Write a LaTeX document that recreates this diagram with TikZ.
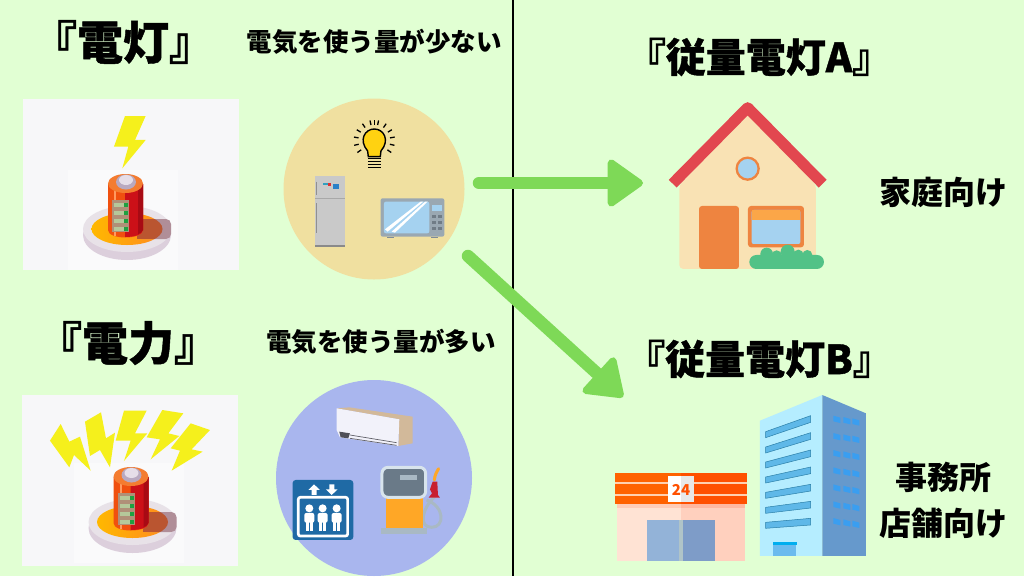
\documentclass[tikz,border=0pt]{standalone}
\usepackage{xcolor}
\usepackage{fontspec}
\usetikzlibrary{positioning,arrows.meta}
\setmainfont{Noto Sans CJK JP}
\definecolor{bgcol}{HTML}{E1FFD3}
\definecolor{flowcol}{HTML}{7ED957}
\definecolor{panelcol}{HTML}{F7F7F9}
\definecolor{boltcol}{HTML}{F5F01C}
\definecolor{lowcol}{HTML}{F0E0A0}
\definecolor{highcol}{HTML}{A9B6EE}
\definecolor{roofcol}{HTML}{E2474F}
\definecolor{wallcol}{HTML}{F9E2B4}
\definecolor{doorcol}{HTML}{EE8440}
\definecolor{glasscol}{HTML}{A5D2F0}
\definecolor{bushcol}{HTML}{52C287}
\definecolor{liftcol}{HTML}{1F6AA5}
\definecolor{steelcol}{HTML}{A9B9C4}
\definecolor{signcol}{HTML}{FF5000}
\definecolor{ringleft}{HTML}{FFB800}
\definecolor{ringright}{HTML}{FF8A1F}
\tikzset{
  hx/.code={\definecolor{hxfill}{HTML}{#1}\tikzset{fill=hxfill}},
  hd/.code={\definecolor{hxdraw}{HTML}{#1}\tikzset{draw=hxdraw}},
  bigtitle/.style={font=\bfseries\addfontfeature{FakeBold=1}\fontsize{46}{50}\selectfont, inner sep=0pt},
  midtitle/.style={font=\bfseries\addfontfeature{FakeBold=1}\fontsize{40}{44}\selectfont, inner sep=0pt},
  usetext/.style={font=\bfseries\fontsize{25.5}{30}\selectfont, inner sep=0pt},
  sidetext/.style={font=\bfseries\fontsize{32}{46}\selectfont, inner sep=0pt, align=center},
  appcircle/.style={circle, inner sep=0pt},
  flowarrow/.style={flowcol, line width=12.5pt, line cap=round,
    -{Triangle[round, length=38pt, width=52pt, line width=7pt]}},
  zoomgrid/.style={x=.3333pt, y=-.3333pt},
  battery/.pic={
    \fill[white!40!panelcol] (-59,-62) rectangle (51,38);
    \fill[hx=DCCFDC] (0,3) ellipse [x radius=44, y radius=25];
    \fill[hx=E8E2E8] (0,-3) ellipse [x radius=44, y radius=23];
    \shade[left color=ringleft, right color=ringright] (0,-3) ellipse [x radius=35.5, y radius=16];
    \fill[hx=B08E98, rounded corners=5pt] (10,-13) -- (44,-13) -- (44,7) -- (10,7) -- cycle;
    \begin{scope}
      \clip (0,-3) ellipse [x radius=35.5, y radius=16];
      \fill[hx=BA5530] (10,-13) rectangle (44,7);
    \end{scope}
    \fill[hx=F0500F] (-19,-48) -- (-19,-2) .. controls (-19,8) and (16,8) .. (16,-2) -- (16,-48) -- cycle;
    \fill[hx=CC1018] (-2,-48) -- (-2,5) .. controls (6,5) and (16,3) .. (16,-2) -- (16,-48) -- cycle;
    \fill[hx=A80A14] (11,-48) -- (11,2) .. controls (13,1) and (16,0) .. (16,-2) -- (16,-48) -- cycle;
    \fill[hx=FF9A60] (-13,-42) rectangle (-11,4);
    \fill[hx=F47C30] (-1.5,-48.5) ellipse [x radius=17.5, y radius=9.5];
    \fill[hx=B9A9C0] (-1,-50) ellipse [x radius=10, y radius=7.5];
    \fill[hx=E6DEE8] (-1,-52) ellipse [x radius=7, y radius=5];
    \fill[hx=B09078] (-15,-32) rectangle (2,0);
    \foreach \r in {-29,-21,-13,-5} {
      \fill[hx=B5C89A] (-13,\r) rectangle (-3,\r+4);
      \fill[hx=1FA040] (-3,\r) rectangle (1,\r+4);
    }
  }
}
\begin{document}
\begin{tikzpicture}[x=1pt, y=-1pt]
\useasboundingbox (0,0) rectangle (1024,576);
\fill[bgcol] (0,0) rectangle (1024,576);

% panels
\fill[panelcol] (22.5,99) rectangle (239,270);
\fill[panelcol] (22,395) rectangle (238,566);
\pic at (127,232) {battery};
\pic at (132.5,525) {battery};

% bolts
\begin{scope}[shift={(0,90)}, zoomgrid]
  \fill[boltcol] (375,78) -- (437,78) -- (405,150) -- (437,150) -- (367,235) -- (385,170) -- (342,170) -- cycle;
\end{scope}
\begin{scope}[shift={(0,380)}, zoomgrid]
  \fill[boltcol] (182,132) -- (208,185) -- (240,170) -- (272,272) -- (222,225) -- (208,262) -- (150,182) -- cycle;
  \fill[boltcol] (303,97) -- (318,175) -- (345,158) -- (330,262) -- (300,210) -- (270,228) -- (255,125) -- cycle;
  \fill[boltcol] (372,92) -- (440,92) -- (405,160) -- (442,160) -- (372,243) -- (392,182) -- (347,182) -- cycle;
  \fill[boltcol] (487,90) -- (550,100) -- (505,160) -- (538,168) -- (452,238) -- (480,178) -- (440,172) -- cycle;
  \fill[boltcol] (572,130) -- (630,150) -- (575,208) -- (608,215) -- (515,272) -- (540,212) -- (512,205) -- cycle;
\end{scope}

% circles
\node[appcircle, fill=lowcol, minimum size=181pt] (lowuse) at (374,189) {};
\node[appcircle, fill=highcol, minimum size=196pt] (highuse) at (374,478) {};

% bulb, fridge, microwave
\begin{scope}[shift={(0,90)}, zoomgrid]
  \foreach \a in {145,167,190,212,235,258,270,282,305,328,350,373,395}
    \draw[black, line width=1.3pt] (1123,152) ++(\a:48) -- ++(\a:14);
  \fill[hx=FFD211, draw=black, line width=1.4pt] (1103,183) .. controls (1075,150) and (1095,117) .. (1123,117) .. controls (1151,117) and (1171,150) .. (1143,183) -- (1141,200) -- (1105,200) -- cycle;
  \foreach \y in {205,214,223,232}
    \draw[black, line width=1.5pt] (1104,\y) -- (1142,\y);
  \fill[hx=C9C9C9] (945,258) rectangle (1034,472);
  \fill[hx=8A8A8A] (945,465) rectangle (1034,472);
  \draw[hd=A8A8A8, line width=.8pt] (945,325) -- (1034,325);
  \draw[hd=909090, line width=.8pt] (949,275) -- (949,315);
  \draw[hd=909090, line width=.8pt] (949,340) -- (949,430);
  \fill[hx=2A80C8] (998,283) rectangle (1018,298);
  \fill[hx=E03030] (985,280) rectangle (993,287);
  \fill[hx=30A0C0] (970,278) rectangle (983,285);
  \fill[hx=9AA8B2, rounded corners=2pt] (1142,325) rectangle (1333,440);
  \fill[hx=808C96] (1160,440) rectangle (1183,445);
  \fill[hx=808C96] (1292,440) rectangle (1315,445);
  \fill[glasscol, rounded corners=2pt] (1152,335) rectangle (1288,430);
  \fill[white] (1155,418) -- (1262,335) -- (1270,335) -- (1163,425) -- cycle;
  \fill[white] (1175,425) -- (1275,335) -- (1283,335) -- (1185,428) -- cycle;
  \fill[glasscol] (1297,345) rectangle (1327,362);
  \foreach \y in {380,398,416} {
    \fill[hx=707C86] (1297,\y-5) rectangle (1307,\y+5);
    \fill[hx=707C86] (1315,\y-5) rectangle (1325,\y+5);
  }
\end{scope}

% air conditioner, lift, pump
\begin{scope}[shift={(0,380)}, zoomgrid]
  \fill[hx=D2B99A] (1010,85) -- (1048,82) -- (1238,110) -- (1238,190) -- (1195,198) -- (1198,118) -- cycle;
  \fill[hx=F2F2FA] (1010,85) -- (1198,118) -- (1195,198) -- (1020,172) -- (1010,150) -- cycle;
  \fill[hx=505058] (1018,155) -- (1050,160) -- (1045,175) -- (1022,172) -- cycle;
  \draw[hd=606068, line width=.7pt] (1050,165) -- (1190,188);
  \draw[hd=606068, line width=.7pt] (1050,175) -- (1190,196);
  \fill[liftcol, rounded corners=3pt] (878,300) rectangle (1060,480);
  \draw[white, line width=2.7pt, rounded corners=2pt] (895,352) rectangle (1043,468);
  \fill[white] (925,330) -- (942,313) -- (960,330) -- (950,330) -- (950,345) -- (935,345) -- (935,330) -- cycle;
  \fill[white] (978,328) -- (988,328) -- (988,313) -- (1003,313) -- (1003,328) -- (1013,328) -- (995,345) -- cycle;
  \foreach \x in {928,968,1010} {
    \fill[white] (\x,385) circle [radius=12];
    \fill[white, rounded corners=2pt] (\x-15,399) rectangle (\x+15,428);
    \fill[white] (\x-10,425) rectangle (\x-1,452);
    \fill[white] (\x+1,425) rectangle (\x+10,452);
  }
  \draw[steelcol, line width=3pt] (1280,360) .. controls (1335,380) and (1335,442) .. (1295,442) .. controls (1255,442) and (1265,385) .. (1305,350);
  \fill[hx=FFA726] (1158,350) rectangle (1268,445);
  \fill[steelcol] (1143,445) rectangle (1280,462);
  \draw[hx=6A7A88, hd=D8E4EC, line width=3pt, rounded corners=6pt] (1146,262) rectangle (1277,352);
  \fill[steelcol] (1200,285) rectangle (1250,300);
  \draw[hd=FFA726, line width=3pt, line cap=round] (1303,300) .. controls (1305,285) and (1310,275) .. (1316,266);
  \fill[hx=C8202F] (1290,328) -- (1298,305) -- (1312,305) -- (1314,345) -- (1320,353) -- (1286,353) -- (1296,340) -- cycle;
\end{scope}

% house
\begin{scope}[shift={(600,90)}, zoomgrid]
  \fill[wallcol, rounded corners=4pt] (443,70) -- (648,285) -- (648,537) -- (238,537) -- (238,285) -- cycle;
  \draw[roofcol, line width=11pt, line join=round] (218,281) -- (443,53) -- (668,281);
  \draw[fill=glasscol, hd=EE8440, line width=2.3pt] (443,236) circle [radius=33];
  \fill[doorcol, rounded corners=3pt] (297,537) -- (297,348) -- (417,348) -- (417,537) -- cycle;
  \fill[doorcol, rounded corners=3pt] (444,348) rectangle (612,472);
  \fill[glasscol, rounded corners=2pt] (455,360) rectangle (601,462);
  \fill[hx=FBA648] (455,360) rectangle (601,390);
  \fill[bushcol, rounded corners=7pt] (448,495) rectangle (672,537);
  \foreach \x/\y/\r in {500/492/19,530/497/16,563/485/21,595/495/16,622/495/15}
    \fill[bushcol] (\x,\y) circle [radius=\r];
\end{scope}

% shop and office
\begin{scope}[shift={(600,385)}, zoomgrid]
  \fill[hx=FFE3D4] (52,370) rectangle (243,528);
  \fill[hx=FFD0BE] (243,370) rectangle (436,528);
  \fill[hx=FFCDB8] (52,358) rectangle (243,370);
  \fill[hx=FFB8A0] (243,358) rectangle (436,370);
  \fill[hx=93B3D8] (142,405) rectangle (236,528);
  \fill[hx=B0C4C8] (236,405) rectangle (250,528);
  \fill[hx=7E9CC8] (250,405) rectangle (345,528);
  \fill[hx=FF6200] (45,265) rectangle (243,358);
  \fill[hx=FF5000] (243,265) rectangle (442,358);
  \fill[hx=FFD0B0] (45,291) rectangle (442,297);
  \fill[hx=FFD0B0] (45,328) rectangle (442,334);
  \fill[white] (205,273) rectangle (243,350);
  \fill[hx=E8E8E8] (243,273) rectangle (282,350);
  \node[inner sep=0pt, text=signcol, font=\bfseries\fontsize{15}{15}\selectfont] (shopsign) at (243,314) {24};
  \fill[hx=B5EDFF] (480,107) -- (667,30) -- (667,513) -- (480,513) -- cycle;
  \fill[hx=6699CC] (667,30) -- (798,85) -- (798,513) -- (667,513) -- cycle;
  \foreach \n/\l/\r in {0/140/92,1/186/143,2/231/195,3/276/246,4/322/298,5/367/349,6/412/400}
    \filldraw[hx=5FB8E8, hd=2A7FA8, line width=.5pt] (497,\l) -- (632,\r) -- (632,\r+20) -- (497,\l+18) -- cycle;
  \foreach \y in {92,144,195,247,298,349,399}
    \foreach \x/\d in {700/0,730/4,757/8}
      \fill[hx=3A9EF0] (\x,\y+\d) -- (\x+21,\y+\d+6) -- (\x+21,\y+\d+22) -- (\x,\y+\d+17) -- cycle;
  \fill[hx=6BBBEE] (520,480) rectangle (587,513);
  \fill[hx=00AEEF] (518,471) rectangle (590,480);
\end{scope}

% divider
\draw[black, line width=2.6pt] (513,0) -- (513,576);

% texts
\node[bigtitle] (lamptitle) at (123,42) {『電灯』};
\node[bigtitle] (powertitle) at (128,343) {『電力』};
\node[usetext] (lowtext) at (374,42) {電気を使う量が少ない};
\node[usetext] (hightext) at (381,342) {電気を使う量が多い};
\node[midtitle] (plana) at (759,57) {『従量電灯A』};
\node[midtitle] (planb) at (759,359) {『従量電灯B』};
\node[sidetext] (hometext) at (943,192) {家庭向け};
\node[sidetext] (shoptext) at (943,500) {事務所\\店舗向け};

% arrows
\coordinate (lowa) at (479,183);
\coordinate (homea) at (643,183);
\coordinate (lowb) at (468,256);
\coordinate (shopa) at (623,397);
\draw[flowarrow] (lowa) -- (homea);
\draw[flowarrow] (lowb) -- (shopa);

\end{tikzpicture}
\end{document}
